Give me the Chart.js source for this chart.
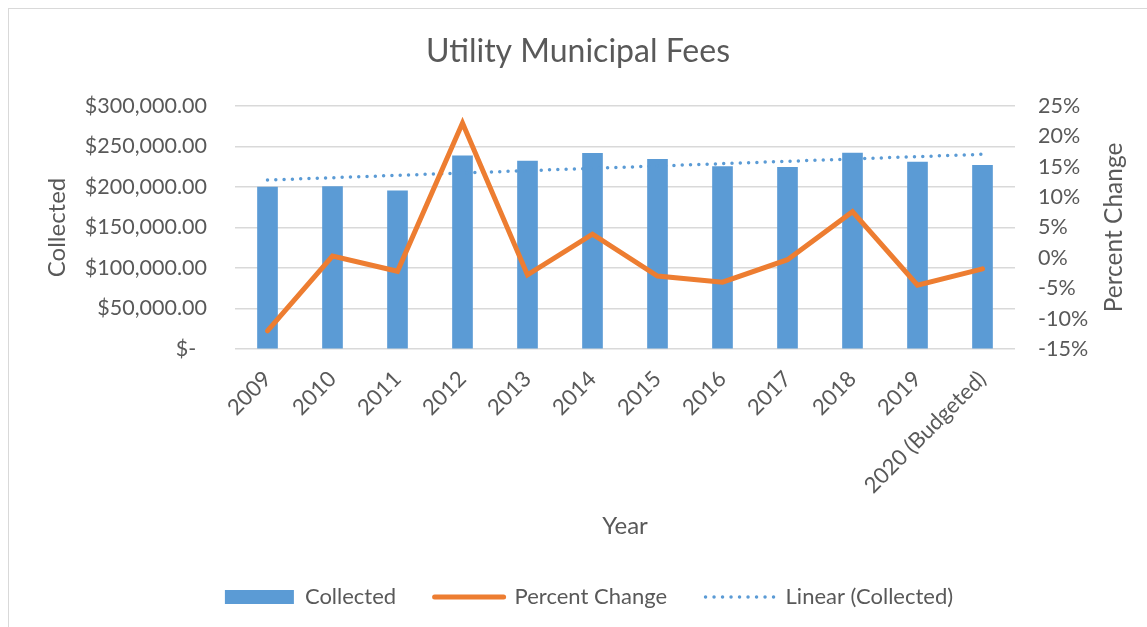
<!DOCTYPE html>
<html>
<head>
<meta charset="utf-8">
<script src="https://cdn.jsdelivr.net/npm/chart.js@4"></script>
<style>
  body { margin: 0; background: #fff; }
  #box { position: absolute; left: 8px; top: 8px; width: 1138px; height: 618px;
         border-left: 1px solid #d9d9d9; border-top: 1px solid #d9d9d9; }
</style>
</head>
<body>
<div id="box"><canvas id="FeesChart"></canvas></div>
<script>
// Utility Municipal Fees
const years = ['2009', '2010', '2011', '2012', '2013', '2014', '2015', '2016', '2017', '2018', '2019', '2020 (Budgeted)'];
const collected = [200000, 200500, 195400, 238600, 232100, 241600, 234200, 225100, 224300, 242000, 230900, 226800];
const percentChange = [-12.0, 0.3, -2.2, 22.2, -2.8, 3.9, -3.0, -4.0, -0.3, 7.6, -4.5, -1.8];
// trendline: start and end only, library draws the line between
const trendCollected = [208600, null, null, null, null, null, null, null, null, null, null, 240400];

const grey = '#595959';
const font = 'Lato';

const rightTitle = {
  id: 'rightTitle',
  afterLayout(chart) {
    // legend sits a little right of centre in the original
    chart.legend.left += 11;
    chart.legend.right += 11;
  },
  afterDraw(chart) {
    const c = chart.ctx;
    const a = chart.chartArea;
    c.save();
    c.font = '24.5px ' + font;
    c.fillStyle = grey;
    c.textAlign = 'center';
    c.textBaseline = 'middle';
    c.translate(1105, (a.top + a.bottom) / 2);
    c.rotate(-Math.PI / 2);
    c.fillText('Percent Change', 0, 0);
    c.restore();
  }
};

const legendLook = [
  { pointStyle: 'rect', lineWidth: 0, lineCap: 'butt', lineDash: [] },
  { pointStyle: 'line', lineWidth: 5, lineCap: 'round', lineDash: [] },
  { pointStyle: 'line', lineWidth: 3.5, lineCap: 'round', lineDash: [0, 8.5] }
];

const ctx = document.getElementById('FeesChart');

new Chart(ctx, {
  type: 'bar',
  data: {
    labels: years,
    datasets: [{
      label: 'Collected',
      data: collected,
      backgroundColor: '#5b9bd5',
      borderWidth: 0,
      barThickness: 20,
      yAxisID: 'y',
      order: 3
    }, {
      type: 'line',
      label: 'Percent Change',
      data: percentChange,
      borderColor: '#ed7d31',
      backgroundColor: '#ed7d31',
      borderWidth: 5,
      borderCapStyle: 'round',
      borderJoinStyle: 'miter',
      pointRadius: 0,
      tension: 0,
      yAxisID: 'y1',
      order: 1
    }, {
      type: 'line',
      label: 'Linear (Collected)',
      data: trendCollected,
      spanGaps: true,
      borderColor: '#5b9bd5',
      backgroundColor: '#5b9bd5',
      borderWidth: 3.5,
      borderDash: [0, 8.3],
      borderCapStyle: 'round',
      pointRadius: 0,
      yAxisID: 'y',
      order: 2
    }]
  },
  options: {
    responsive: true,
    maintainAspectRatio: false,
    animation: false,
    layout: { padding: { bottom: 9 } },
    plugins: {
      title: {
        display: true,
        text: 'Utility Municipal Fees',
        color: grey,
        font: { family: font, size: 32, weight: 'normal' },
        padding: { top: 23.8, bottom: 34.8 }
      },
      legend: {
        position: 'bottom',
        labels: {
          usePointStyle: true,
          pointStyleWidth: 69,
          boxHeight: 14,
          padding: 38.5,
          color: grey,
          font: { family: font, size: 22 },
          generateLabels(chart) {
            return chart.data.datasets.map(function(ds, i) {
              return Object.assign({
                text: ds.label,
                datasetIndex: i,
                fillStyle: ds.backgroundColor,
                strokeStyle: ds.borderColor,
                fontColor: grey,
                hidden: false
              }, legendLook[i]);
            });
          }
        }
      },
      tooltip: { enabled: false }
    },
    scales: {
      x: {
        grid: { display: false },
        border: { display: false },
        ticks: {
          color: grey,
          font: { family: font, size: 22 },
          minRotation: 45,
          maxRotation: 45,
          padding: 9
        },
        title: {
          display: true,
          text: 'Year',
          color: grey,
          font: { family: font, size: 24 },
          padding: { bottom: 7.1 }
        },
        afterFit(axis) { axis.height = 198.5; }
      },
      y: {
        position: 'left',
        min: 0,
        max: 300000,
        grid: { color: '#d9d9d9', lineWidth: 1.5, drawTicks: false },
        border: { display: false },
        ticks: {
          stepSize: 50000,
          color: grey,
          padding: 28,
          font: { family: font, size: 21.5 },
          callback(v) {
            if (v === 0) return '$-\u2002';
            return '$' + v.toLocaleString('en-US', { minimumFractionDigits: 2 });
          }
        },
        title: {
          display: true,
          text: 'Collected',
          color: grey,
          font: { family: font, size: 24 },
          padding: { top: 34.1 }
        },
        afterFit(axis) { axis.width = 226; }
      },
      y1: {
        position: 'right',
        min: -15,
        max: 25,
        grid: { display: false, drawTicks: false },
        border: { display: false },
        ticks: {
          stepSize: 5,
          color: grey,
          padding: 23,
          font: { family: font, size: 21.5 },
          callback(v) { return v + '%'; }
        },
        afterFit(axis) { axis.width = 132; }
      }
    }
  },
  plugins: [rightTitle]
});
</script>
</body>
</html>
